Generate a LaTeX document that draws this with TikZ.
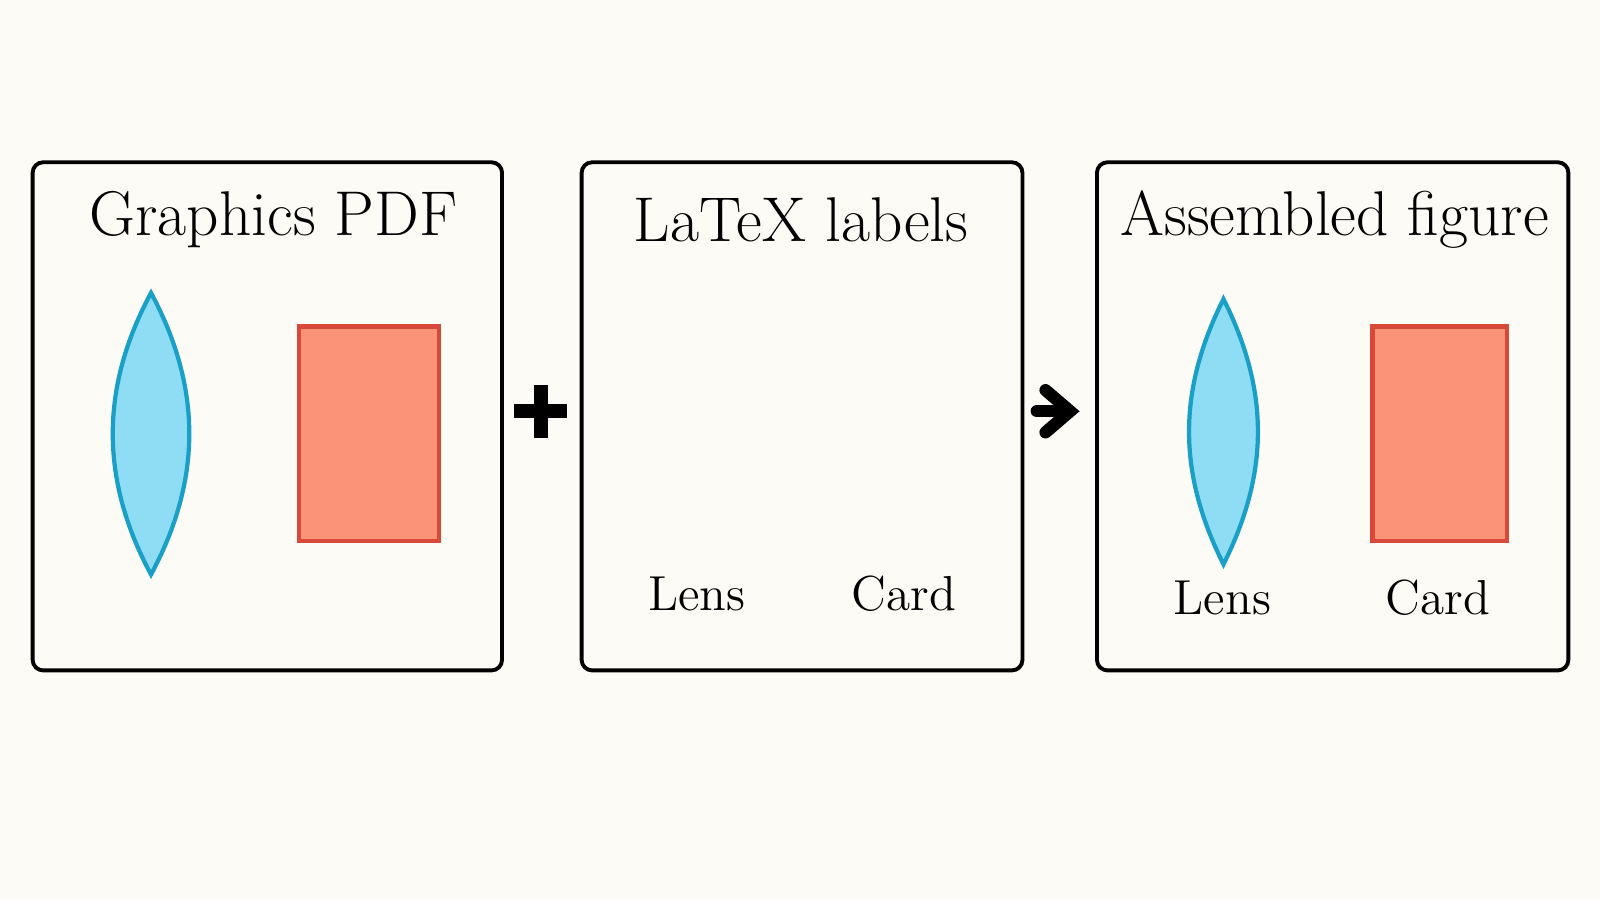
\documentclass[tikz,border=0pt]{standalone}
\usetikzlibrary{arrows.meta}
\definecolor{paper}{HTML}{FDFBF5}
\definecolor{lensfill}{HTML}{8EDDF5}
\definecolor{lensline}{HTML}{1A9FC7}
\definecolor{cardfill}{HTML}{FA9378}
\definecolor{cardline}{HTML}{D9493A}
\tikzset{
	panel/.style = {draw, line width = 1.1pt, rounded corners = 3pt},
	heading/.style = {font = \fontsize{18}{20}\selectfont},
	tag/.style = {font = \fontsize{14}{16}\selectfont},
	lens/.style = {draw = lensline, fill = lensfill, line width = 1.2pt},
	card/.style = {draw = cardline, fill = cardfill, line width = 1.2pt}
}
\begin{document}
\begin{tikzpicture}[x = 0.0102041cm, y = -0.0102041cm]

	% Background
	
	\fill [paper] (0, 0) rectangle (1568, 882);
	\useasboundingbox (0, 0) rectangle (1568, 882);
	
	% Panels + headings
	
	\draw [panel] (32, 159) rectangle (492, 657);
	\draw [panel] (570, 159) rectangle (1002, 657);
	\draw [panel] (1075, 159) rectangle (1537, 657);
	
	\node [heading] (graphics) at (268, 215) {Graphics PDF};
	\node [heading] (labels) at (785, 215) {LaTeX labels};
	\node [heading] (assembled) at (1308, 215) {Assembled figure};
	
	% Graphics
	
	\draw [lens] (148, 287) .. controls (198, 380) and (198, 470) .. (148, 563) .. controls (98, 470) and (98, 380) .. (148, 287) -- cycle;
	\draw [card] (293, 320) rectangle (430, 530);
	
	% Labels
	
	\node [tag] (lensA) at (683, 582) {Lens};
	\node [tag] (cardA) at (886, 582) {Card};
	
	% Assembled
	
	\draw [lens] (1199, 293) .. controls (1244, 383) and (1244, 463) .. (1199, 553) .. controls (1154, 463) and (1154, 383) .. (1199, 293) -- cycle;
	\draw [card] (1345, 320) rectangle (1477, 530);
	\node [tag] (lensB) at (1198, 586) {Lens};
	\node [tag] (cardB) at (1409, 586) {Card};
	
	% Operators
	
	\draw [line width = 4pt] (504, 403) -- (556, 403) (530, 377) -- (530, 429);
	\draw [line width = 3.5pt, line cap = round, -{Straight Barb[length = 7pt, width = 12pt, line cap = round]}] (1016, 403) -- (1058, 403);

\end{tikzpicture}
\end{document}
